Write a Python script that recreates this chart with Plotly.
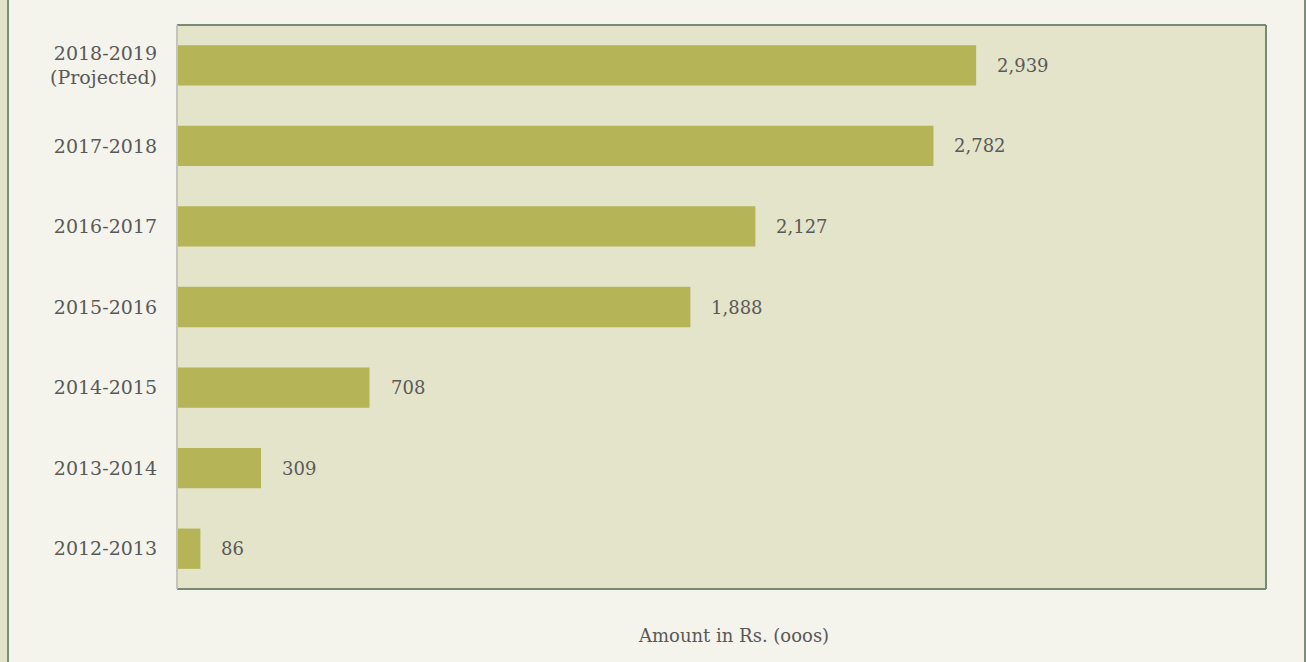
import plotly.graph_objects as go

categories = ["2012-2013", "2013-2014", "2014-2015", "2015-2016", "2016-2017", "2017-2018", "2018-2019<br>(Projected)"]
values = [86, 309, 708, 1888, 2127, 2782, 2939]
value_labels = ["86", "309", "708", "1,888", "2,127", "2,782", "2,939"]

FONT = "DejaVu Serif"
TXT = "#595959"
W, H = 1306, 662
L, R, T, B = 177, 40, 25, 73
pw = W - L - R
ph = H - T - B

def px_x(p):
    return (p - L) / pw

def px_y(p):
    return (H - B - p) / ph

fig = go.Figure()
fig.add_trace(go.Bar(
    x=values, y=categories, orientation="h",
    marker=dict(color="#B5B457", line=dict(width=0)),
    hoverinfo="skip",
))

for v, c, lab in zip(values, categories, value_labels):
    fig.add_annotation(x=v, y=c, text=lab, showarrow=False, xanchor="left", yanchor="middle",
                       xshift=19, font=dict(family=FONT, size=18, color=TXT))

fig.add_annotation(x=px_x(733), y=px_y(635), xref="paper", yref="paper",
                   text="Amount in Rs. (ooos)", showarrow=False, xanchor="center", yanchor="middle",
                   font=dict(family=FONT, size=18, color=TXT))

shapes = [
    # left page strip
    dict(type="rect", xref="paper", yref="paper", x0=px_x(0), x1=px_x(7), y0=px_y(H), y1=px_y(0),
         fillcolor="#E3E3CB", line=dict(width=0), layer="below"),
    dict(type="line", xref="paper", yref="paper", x0=px_x(8), x1=px_x(8), y0=px_y(H), y1=px_y(0),
         line=dict(color="#7A8F7A", width=2)),
    dict(type="line", xref="paper", yref="paper", x0=px_x(1305), x1=px_x(1305), y0=px_y(H), y1=px_y(0),
         line=dict(color="#7A8F7A", width=2)),
    # frame
    dict(type="line", xref="paper", yref="paper", x0=0, x1=1, y0=1, y1=1, line=dict(color="#768A76", width=2)),
    dict(type="line", xref="paper", yref="paper", x0=1, x1=1, y0=0, y1=1, line=dict(color="#768A76", width=2)),
    dict(type="line", xref="paper", yref="paper", x0=0, x1=1, y0=0, y1=0, line=dict(color="#768A76", width=2)),
    dict(type="line", xref="paper", yref="paper", x0=0, x1=0, y0=0, y1=1, line=dict(color="#C4C4BC", width=2)),
]

fig.update_layout(
    width=W, height=H,
    margin=dict(l=L, r=R, t=T, b=B),
    paper_bgcolor="#F4F4EC",
    plot_bgcolor="#E4E4CA",
    bargap=0.5,
    showlegend=False,
    shapes=shapes,
    font=dict(family=FONT, color=TXT),
    xaxis=dict(range=[0, 4005], showgrid=False, zeroline=False, showticklabels=False, showline=False),
    yaxis=dict(showgrid=False, zeroline=False, showline=False, ticklabelstandoff=19,
               tickfont=dict(family=FONT, size=19, color=TXT), categoryorder="array",
               categoryarray=categories),
)

fig.write_html("out.html")
